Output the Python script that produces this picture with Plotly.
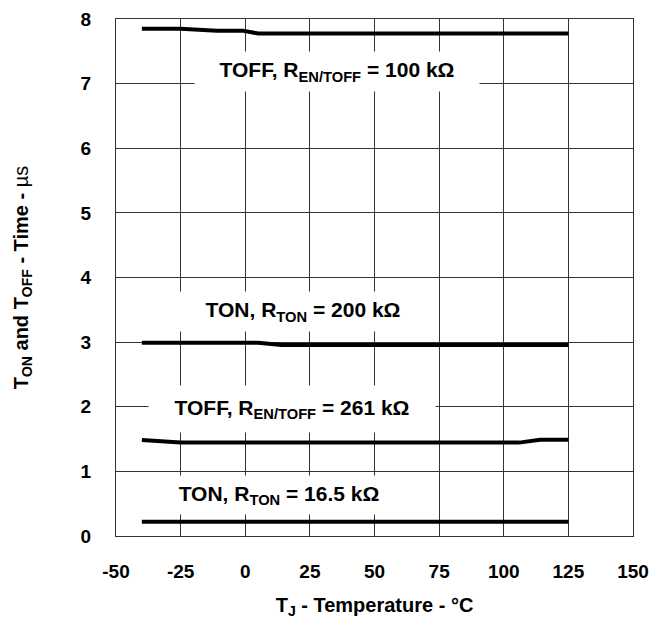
import plotly.graph_objects as go

# Data
toff100_t = [-40, -25, -11, -1, 5, 125]
toff100_v = [7.85, 7.85, 7.82, 7.82, 7.775, 7.775]

ton200_t = [-40, 5, 14, 125]
ton200_v = [2.99, 2.99, 2.955, 2.955]

toff261_t = [-40, -25, 106, 114, 125]
toff261_v = [1.485, 1.445, 1.445, 1.49, 1.49]

ton16_t = [-40, 125]
ton16_v = [0.22, 0.22]

x_ticks = [-50, -25, 0, 25, 50, 75, 100, 125, 150]
x_ticktext = ["-50", "-25", "0", "25", "50", "75", "100", "125", "150"]
y_ticks = [0, 1, 2, 3, 4, 5, 6, 7, 8]

labels = [
    ("TOFF, R<sub>EN/TOFF</sub> = 100 kΩ", 35.5, 7.18, 282, 37),
    ("TON, R<sub>TON</sub> = 200 kΩ", 22.3, 3.47, 262, 37),
    ("TOFF, R<sub>EN/TOFF</sub> = 261 kΩ", 18.0, 1.97, 284, 44),
    ("TON, R<sub>TON</sub> = 16.5 kΩ", 13.0, 0.63, 224, 36),
]

FONT = "Liberation Sans, Arial, sans-serif"

fig = go.Figure()
for xs, ys in [(toff100_t, toff100_v), (ton200_t, ton200_v),
               (toff261_t, toff261_v), (ton16_t, ton16_v)]:
    fig.add_trace(go.Scatter(x=xs, y=ys, mode="lines",
                             line=dict(color="black", width=4),
                             showlegend=False, hoverinfo="skip"))

for text, x, y, w, h in labels:
    fig.add_annotation(x=x, y=y, xref="x", yref="y", text="<b>" + text + "</b>",
                       showarrow=False, bgcolor="white", width=w, height=h,
                       font=dict(family=FONT, size=21, color="black"))

axis_common = dict(showgrid=True, gridcolor="#333333", gridwidth=1,
                   showline=True, linecolor="#333333", linewidth=1, mirror=True,
                   zeroline=False, ticks="",
                   tickfont=dict(family=FONT, size=19, color="black", weight="bold"))

fig.update_xaxes(range=[-50, 150], tickvals=x_ticks, ticktext=x_ticktext,
                 ticklabelstandoff=18,
                 title=dict(text="<b>T<sub>J</sub> - Temperature - °C</b>",
                            font=dict(family=FONT, size=20, color="black"), standoff=17),
                 **axis_common)
fig.update_yaxes(range=[0, 8], tickvals=y_ticks, ticklabelstandoff=20,
                 title=dict(text="<b>T<sub>ON</sub> and T<sub>OFF</sub> - Time - </b>µs",
                            font=dict(family=FONT, size=20, color="black"), standoff=46),
                 **axis_common)

fig.update_layout(width=654, height=620, plot_bgcolor="white", paper_bgcolor="white",
                  margin=dict(l=116, r=21, t=19, b=84, autoexpand=False))

fig.write_html("out.html", config={"displayModeBar": False},
               post_script="document.body.style.margin='0';document.body.style.overflow='hidden';")
